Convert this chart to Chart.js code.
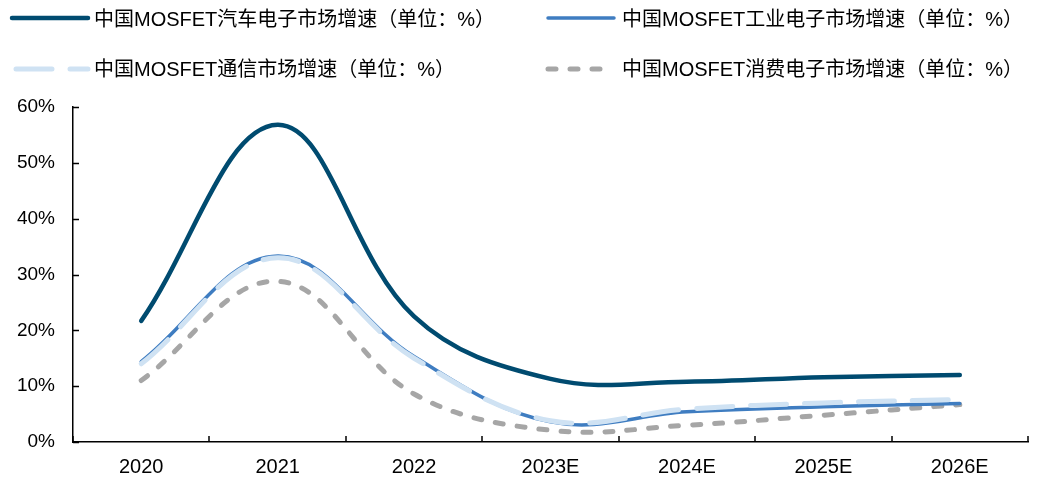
<!DOCTYPE html>
<html>
<head>
<meta charset="utf-8">
<script src="https://cdn.jsdelivr.net/npm/chart.js@4/dist/chart.umd.min.js"></script>
<style>
html,body{margin:0;padding:0;background:#fff;}
#wrap{width:1049px;height:480px;position:relative;}
</style>
</head>
<body>
<div id="wrap"><canvas id="c" width="1049" height="480"></canvas></div>
<script>
const categories = ['2020','2021','2022','2023E','2024E','2025E','2026E'];
const autoGrowth = [21.7, 56.8, 22.5, 11.3, 10.8, 11.6, 12.0];
const industrialGrowth = [14.4, 33.3, 15.3, 3.6, 5.4, 6.3, 6.9];
const telecomGrowth = [14.0, 33.0, 15.0, 3.8, 5.9, 7.0, 7.6];
const consumerGrowth = [11.0, 28.8, 8.6, 2.1, 3.0, 4.8, 6.7];
const seriesNames = [
  '中国MOSFET汽车电子市场增速（单位：%）',
  '中国MOSFET工业电子市场增速（单位：%）',
  '中国MOSFET通信市场增速（单位：%）',
  '中国MOSFET消费电子市场增速（单位：%）'
];
const yTicks = [0,10,20,30,40,50,60];

const FONT = '"Liberation Sans", Arial, "Noto Sans CJK SC", sans-serif';

const legendPlugin = {
  id: 'customLegend',
  afterDraw(chart) {
    const ctx = chart.ctx;
    const slots = [
      {x: 12, y: 18, w: 76, tx: 94, ty: 20},
      {x: 548, y: 18, w: 66, tx: 622, ty: 20},
      {x: 16, y: 69, w: 72, tx: 94, ty: 70},
      {x: 548, y: 69, w: 66, tx: 622, ty: 70}
    ];
    ctx.save();
    chart.data.datasets.forEach((ds, i) => {
      const s = slots[i];
      ctx.beginPath();
      ctx.strokeStyle = ds.borderColor;
      ctx.lineWidth = ds.borderWidth;
      ctx.lineCap = ds.borderCapStyle || 'butt';
      ctx.setLineDash(ds.borderDash || []);
      ctx.moveTo(s.x, s.y);
      ctx.lineTo(s.x + s.w, s.y);
      ctx.stroke();
      ctx.setLineDash([]);
      ctx.fillStyle = '#000';
      ctx.font = '20px ' + FONT;
      ctx.textBaseline = 'middle';
      ctx.fillText(ds.label, s.tx, s.ty);
    });
    ctx.restore();
  }
};

const tickPlugin = {
  id: 'innerTicks',
  afterDatasetsDraw(chart) {
    const ctx = chart.ctx;
    const x = chart.scales.x, y = chart.scales.y;
    const a = chart.chartArea;
    ctx.save();
    ctx.strokeStyle = '#000';
    ctx.lineWidth = 1.5;
    ctx.beginPath();
    y.ticks.forEach((t, i) => {
      const py = Math.round(y.getPixelForTick(i)) + 0.5;
      ctx.moveTo(a.left, py);
      ctx.lineTo(a.left + 6, py);
    });
    const n = categories.length;
    const half = (x.getPixelForTick(1) - x.getPixelForTick(0)) / 2;
    for (let i = 0; i <= n; i++) {
      const px = Math.round(i < n ? x.getPixelForTick(i) - half : x.getPixelForTick(n - 1) + half);
      ctx.moveTo(px, a.bottom);
      ctx.lineTo(px, a.bottom - 6);
    }
    ctx.stroke();
    ctx.restore();
  }
};

new Chart(document.getElementById('c'), {
  type: 'line',
  data: {
    labels: categories,
    datasets: [
      {label: seriesNames[0], data: autoGrowth, borderColor: '#004B70', borderWidth: 4.5, borderCapStyle: 'round', order: 1},
      {label: seriesNames[1], data: industrialGrowth, borderColor: '#3F7DC1', borderWidth: 3.5, borderCapStyle: 'round', order: 3},
      {label: seriesNames[2], data: telecomGrowth, borderColor: '#CFE2F3', borderWidth: 5, borderDash: [36, 18], borderCapStyle: 'round', order: 2},
      {label: seriesNames[3], data: consumerGrowth, borderColor: '#A6A6A6', borderWidth: 5, borderDash: [8, 14], borderCapStyle: 'round', order: 4}
    ]
  },
  options: {
    responsive: false,
    animation: false,
    devicePixelRatio: 1,
    layout: {padding: {top: 107, right: 21, left: 0, bottom: 0}},
    elements: {
      line: {tension: 0.38, fill: false},
      point: {radius: 0, hoverRadius: 0}
    },
    plugins: {legend: {display: false}, tooltip: {enabled: false}},
    scales: {
      x: {
        offset: true,
        grid: {display: false, drawOnChartArea: false, drawTicks: false},
        border: {display: true, color: '#000', width: 1.5},
        ticks: {color: '#000', font: {family: FONT, size: 20}, padding: 13, maxRotation: 0},
        afterFit(s) { s.height = 38; }
      },
      y: {
        min: 0, max: 60,
        afterBuildTicks(s) { s.ticks = yTicks.map(v => ({value: v})); },
        grid: {display: false, drawOnChartArea: false, drawTicks: false},
        border: {display: true, color: '#000', width: 1.5},
        ticks: {color: '#000', font: {family: FONT, size: 19}, padding: 18, callback: v => v + '%'},
        afterFit(s) { s.width = 73; }
      }
    }
  },
  plugins: [legendPlugin, tickPlugin]
});
</script>
</body>
</html>
